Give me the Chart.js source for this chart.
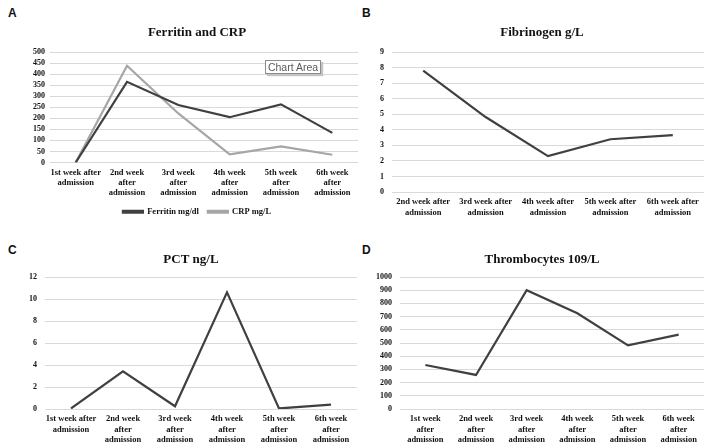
<!DOCTYPE html>
<html>
<head>
<meta charset="utf-8">
<script src="https://cdn.jsdelivr.net/npm/chart.js@4.4.0/dist/chart.umd.min.js"></script>
<style>
  body { margin: 0; background: #fff; }
  #page { position: relative; width: 708px; height: 446px; overflow: hidden; background: #fff; }
  .panel { position: absolute; }
  .letter { position: absolute; font-family: "Liberation Sans", Arial, sans-serif; font-weight: bold; font-size: 12px; color: #111; }
  .tip { position: absolute; left: 265px; top: 60px; width: 56px; height: 14px; box-sizing: border-box;
         border: 1px solid #8c8c8c; background: #fff; box-shadow: 2px 2px 1px #c4c4c4;
         font-family: "Liberation Sans", Arial, sans-serif; font-size: 10.5px; color: #5a5a5a;
         line-height: 12px; text-align: center; }
</style>
</head>
<body>
<div id="page">
  <div class="letter" style="left:8px;top:6px;">A</div>
  <div class="letter" style="left:362px;top:6px;">B</div>
  <div class="letter" style="left:8px;top:243px;">C</div>
  <div class="letter" style="left:362px;top:243px;">D</div>

  <div class="panel" style="left:0;top:0;width:360px;height:226px;"><canvas id="chartA"></canvas></div>
  <div class="panel" style="left:354px;top:0;width:354px;height:223px;"><canvas id="chartB"></canvas></div>
  <div class="panel" style="left:0;top:223px;width:360px;height:223px;"><canvas id="chartC"></canvas></div>
  <div class="panel" style="left:354px;top:223px;width:354px;height:223px;"><canvas id="chartD"></canvas></div>

  <div class="tip">Chart Area</div>
</div>

<script>
// etichette settimane
var weeksA = [['1st week after', 'admission'], ['2nd week', 'after', 'admission'], ['3rd week', 'after', 'admission'],
  ['4th week', 'after', 'admission'], ['5th week', 'after', 'admission'], ['6th week', 'after', 'admission']];
var weeksB = [['2nd week after', 'admission'], ['3rd week after', 'admission'], ['4th week after', 'admission'],
  ['5th week after', 'admission'], ['6th week after', 'admission']];
var weeksD = [['1st week', 'after', 'admission'], ['2nd week', 'after', 'admission'], ['3rd week', 'after', 'admission'],
  ['4th week', 'after', 'admission'], ['5th week', 'after', 'admission'], ['6th week', 'after', 'admission']];

// valori
var ferritin = [0, 365, 260, 205, 263, 134];
var crp = [0, 438, 222, 37, 73, 35];
var fibrinogen = [7.8, 4.82, 2.31, 3.39, 3.66];
var pct = [0.05, 3.43, 0.25, 10.6, 0.05, 0.4];
var thrombocytes = [333, 258, 900, 725, 482, 563];

var darkLine = '#404040';
var lightLine = '#a6a6a6';
var serif = '"Liberation Serif", "Times New Roman", serif';

// l'asse y e' stretto per centrare il titolo: allargo l'area di clip delle etichette
var yLabelRoom = {
  id: 'yLabelRoom',
  afterLayout: function (chart) {
    chart.scales.y.left = 0;
  }
};

//funzione che crea un grafico line
function createChartLine(id, cfg) {
  var datasets = cfg.series.map(function (s) {
    return {
      label: s.label,
      data: s.data,
      borderColor: s.color,
      backgroundColor: s.color,
      borderWidth: 2.2,
      pointRadius: 0,
      tension: 0
    };
  });

  return new Chart(document.getElementById(id), {
    type: 'line',
    data: { labels: cfg.labels, datasets: datasets },
    plugins: [yLabelRoom],
    options: {
      responsive: true,
      maintainAspectRatio: false,
      animation: false,
      layout: { padding: { left: cfg.padL, right: cfg.padR, top: 0, bottom: 0 } },
      plugins: {
        tooltip: { enabled: false },
        title: {
          display: true,
          text: cfg.title,
          color: '#111',
          font: { family: serif, size: 13, weight: 'bold', lineHeight: 1.2 },
          padding: { top: cfg.titleTop, bottom: cfg.titleBottom }
        },
        legend: {
          display: cfg.legend,
          position: 'bottom',
          labels: {
            boxWidth: 20,
            boxHeight: 2,
            padding: 9,
            color: '#111',
            font: { family: serif, size: 8.5, weight: 'bold' }
          }
        }
      },
      scales: {
        x: {
          offset: true,
          grid: { display: false, drawTicks: false },
          border: { display: false },
          ticks: {
            padding: 5,
            maxRotation: 0,
            autoSkip: false,
            color: '#111',
            font: { family: serif, size: 8.5, weight: 'bold', lineHeight: 1.2 }
          },
          afterFit: function (scale) { scale.height = cfg.xHeight; }
        },
        y: {
          min: 0,
          max: cfg.yMax,
          grid: { color: '#d9d9d9', lineWidth: 1, drawTicks: false },
          border: { display: false },
          ticks: {
            stepSize: cfg.yStep,
            autoSkip: false,
            padding: cfg.yPad,
            color: '#111',
            font: { family: serif, size: 8, weight: 'bold' },
            callback: function (value) { return String(value); }
          },
          afterFit: function (scale) { scale.width = cfg.yWidth; }
        }
      }
    }
  });
}

createChartLine('chartA', {
  title: 'Ferritin and CRP',
  labels: weeksA,
  series: [
    { label: 'Ferritin mg/dl', data: ferritin, color: darkLine },
    { label: 'CRP mg/L', data: crp, color: lightLine }
  ],
  legend: true,
  yMax: 500, yStep: 50,
  padL: 36, padR: 2, yWidth: 14, yPad: 5,
  titleTop: 25, titleBottom: 11.4, xHeight: 36
});

createChartLine('chartB', {
  title: 'Fibrinogen g/L',
  labels: weeksB,
  series: [{ label: 'Fibrinogen g/L', data: fibrinogen, color: darkLine }],
  legend: false,
  yMax: 9, yStep: 1,
  padL: 26, padR: 4, yWidth: 12, yPad: 8,
  titleTop: 25, titleBottom: 11.4, xHeight: 31
});

createChartLine('chartC', {
  title: 'PCT ng/L',
  labels: weeksA,
  series: [{ label: 'PCT ng/L', data: pct, color: darkLine }],
  legend: false,
  yMax: 12, yStep: 2,
  padL: 25, padR: 3, yWidth: 20, yPad: 8,
  titleTop: 29, titleBottom: 9.4, xHeight: 37
});

createChartLine('chartD', {
  title: 'Thrombocytes 109/L',
  labels: weeksD,
  series: [{ label: 'Thrombocytes 109/L', data: thrombocytes, color: darkLine }],
  legend: false,
  yMax: 1000, yStep: 100,
  padL: 26, padR: 4, yWidth: 20, yPad: 8,
  titleTop: 29, titleBottom: 9.4, xHeight: 37
});
</script>
</body>
</html>
